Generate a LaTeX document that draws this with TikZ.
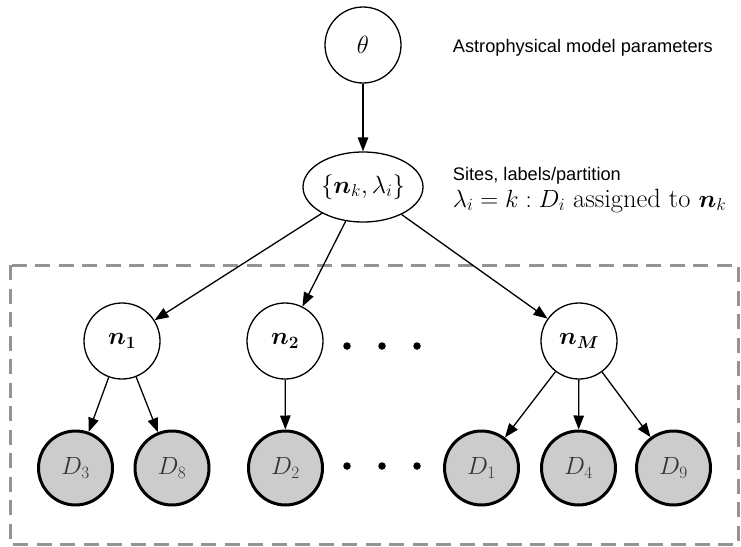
\documentclass[tikz,border=0pt]{standalone}
\usepackage{amsmath,bm}
\usepackage{fontspec}
\newfontfamily\labelfont{Liberation Sans}
\usetikzlibrary{arrows.meta,shapes.geometric}
\begin{document}
\begin{tikzpicture}[x=1pt,y=-1pt,
  every node/.style={font=\fontsize{26}{31}\selectfont},
  latent/.style={circle,draw,line width=1.3pt,minimum size=76pt,inner sep=0pt},
  observed/.style={circle,draw,line width=3pt,fill=black!20,minimum size=74pt,inner sep=0pt,text=black!80},
  edge/.style={line width=1.3pt,-{Triangle[length=14pt,width=10.5pt]}},
  note/.style={anchor=base west,inner sep=0pt,font=\labelfont\fontsize{18.2}{21}\selectfont},
  dotmark/.style={circle,fill=black,draw=none,inner sep=0pt,minimum size=7.5pt},
  plate/.style={draw=black!42,line width=3pt,dash pattern=on 15pt off 8.5pt}]

\useasboundingbox (0,0) rectangle (741,546);

% plate around the sites and their data
\draw[plate] (10,265) rectangle (738,544);

% hyper-parameters and partition
\node[latent] (theta) at (363,45) {$\theta$};
\node[ellipse,draw,line width=1.3pt,minimum width=120pt,minimum height=70pt,inner sep=0pt] (sites) at (363,187) {$\{\bm{n}_k,\lambda_i\}$};

% sites
\node[latent] (n1) at (122,341) {$\bm{n_1}$};
\node[latent] (n2) at (285,341) {$\bm{n_2}$};
\node[latent] (nM) at (579,341) {$\bm{n_M}$};

% observed data
\node[observed] (D3) at (75.5,468) {$D_3$};
\node[observed] (D8) at (172,468) {$D_8$};
\node[observed] (D2) at (285.5,468) {$D_2$};
\node[observed] (D1) at (481.5,468) {$D_1$};
\node[observed] (D4) at (578.5,468) {$D_4$};
\node[observed] (D9) at (673.5,468) {$D_9$};

% ellipsis dots
\node[dotmark] (da1) at (347,346) {};
\node[dotmark] (da2) at (382,346) {};
\node[dotmark] (da3) at (417,346) {};
\node[dotmark] (db1) at (347,466) {};
\node[dotmark] (db2) at (382,466) {};
\node[dotmark] (db3) at (417,466) {};

% annotations
\node[note] (lblA) at (452.7,52) {Astrophysical model parameters};
\node[note] (lblB) at (452.7,180) {Sites, labels/partition};
\node[note,font=\fontsize{26.5}{31}\selectfont] (lblC) at (452.7,207) {$\lambda_i = k : D_i$ assigned to $\bm{n}_k$};

% dependencies
\draw[edge] (theta) -- (sites);
\draw[edge] (sites) -- (n1);
\draw[edge] (sites) -- (n2);
\draw[edge] (sites) -- (nM);
\draw[edge] (n1) -- (D3);
\draw[edge] (n1) -- (D8);
\draw[edge] (n2) -- (D2);
\draw[edge] (nM) -- (D1);
\draw[edge] (nM) -- (D4);
\draw[edge] (nM) -- (D9);
\end{tikzpicture}
\end{document}
